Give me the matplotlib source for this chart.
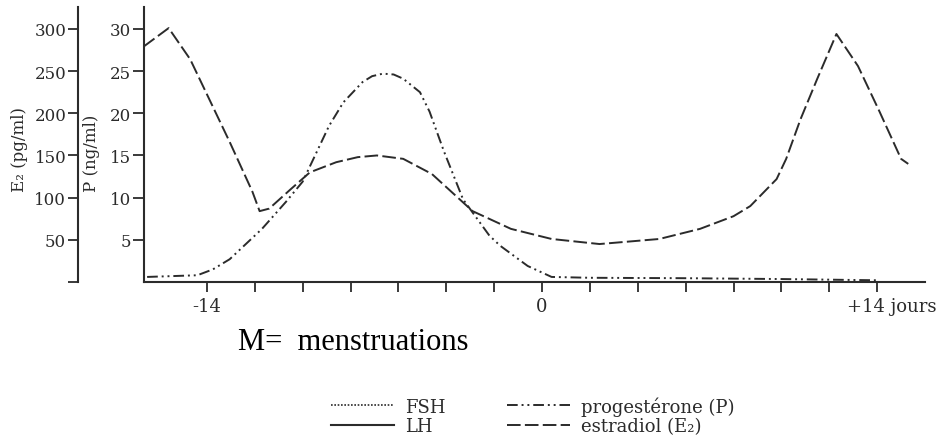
import matplotlib.pyplot as plt
from matplotlib.lines import Line2D

# data (days relative to day 0)
e2_days = [-16.65, -15.6, -14.7, -13.05, -12.1, -11.8, -11.4, -10.5, -9.7, -8.6, -7.7, -6.9,
           -5.8, -4.6, -2.9, -1.3, 0.4, 2.4, 4.9, 6.6, 8.0, 8.7, 9.8, 10.2, 10.8, 11.5,
           12.3, 13.2, 14.1, 15.0, 15.3]
e2_vals = [279, 301, 264, 166, 107, 84, 87, 110, 130, 142, 148, 150,
           146, 128, 84, 63, 51, 45, 51, 63, 78, 90, 122, 146, 193, 241,
           294, 256, 202, 146, 140]

p_days = [-16.5, -14.4, -13.75, -13.05, -11.7, -10.7, -10.0, -9.4, -8.9, -8.3, -7.5, -7.1,
          -6.65, -6.2, -5.8, -5.1, -4.7, -4.1, -3.3, -2.2, -1.75, -0.6, 0.4, 2.0, 6.0,
          10.0, 14.1]
p_vals = [0.6, 0.8, 1.5, 2.7, 6.3, 9.5, 11.9, 15.5, 18.5, 21.3, 23.7, 24.4,
          24.7, 24.6, 24.1, 22.5, 20.2, 15.5, 9.8, 5.5, 4.3, 1.9, 0.6, 0.5, 0.45,
          0.35, 0.2]

e2_ticks = [0, 50, 100, 150, 200, 250, 300]
e2_labels = ['', '50', '100', '150', '200', '250', '300']
p_ticks = [5, 10, 15, 20, 25, 30]
x_ticks = [-14, -12, -10, -8, -6, -4, -2, 0, 2, 4, 6, 8, 10, 12, 14]
x_labels = ['-14', '', '', '', '', '', '', '0', '', '', '', '', '', '', '']

ink = '#2b2b2b'
plt.rcParams['font.family'] = 'DejaVu Serif'

fig = plt.figure(figsize=(9.4, 4.39), dpi=100)
ax = fig.add_axes([144 / 940, 1 - 283 / 439, (925 - 144) / 940, (283 - 8) / 439])
ax2 = ax.twinx()

# progesterone on the P axis
ax.plot(p_days, p_vals, color=ink, lw=1.4, ls=(0, (5.5, 2, 1, 2, 1, 2)))
# estradiol on the E2 axis
ax2.plot(e2_days, e2_vals, color=ink, lw=1.4, ls=(0, (7, 2.2)))

ax.set_xlim(-16.63, 16.0)
ax.set_ylim(0, 32.6)
ax2.set_ylim(0, 326)

for s in ['top', 'right']:
    ax.spines[s].set_visible(False)
for s in ['top', 'right', 'bottom']:
    ax2.spines[s].set_visible(False)
for s in ['left', 'bottom']:
    ax.spines[s].set_linewidth(1.5)
    ax.spines[s].set_color(ink)
ax2.spines['left'].set_visible(True)
ax2.spines['left'].set_position(('axes', -66 / 781))
ax2.spines['left'].set_linewidth(1.5)
ax2.spines['left'].set_color(ink)
ax2.yaxis.set_ticks_position('left')

ax.set_yticks(p_ticks)
ax.set_yticklabels([str(v) for v in p_ticks])
ax2.set_yticks(e2_ticks)
ax2.set_yticklabels(e2_labels)
ax.set_xticks(x_ticks)
ax.set_xticklabels(x_labels)

ax.tick_params(axis='y', direction='out', length=8, width=1.3, pad=1.5,
               labelsize=12, colors=ink)
ax2.tick_params(axis='y', direction='out', length=7, width=1.3, pad=1.5,
                labelsize=12, colors=ink)
ax.tick_params(axis='x', direction='out', length=7, width=1.3, pad=4,
               labelsize=13, colors=ink)

ax.text(12.75, -0.055, '+14 jours', transform=ax.get_xaxis_transform(),
        ha='left', va='top', fontsize=13, color=ink)

fig.text(19 / 940, 1 - 150 / 439, 'E₂ (pg/ml)', rotation=90, ha='center',
         va='center', fontsize=12, color=ink)
fig.text(92 / 940, 1 - 153 / 439, 'P (ng/ml)', rotation=90, ha='center',
         va='center', fontsize=12, color=ink)

fig.text(238 / 940, 1 - 350 / 439, 'M=  menstruations', family='Liberation Serif',
         fontsize=22, ha='left', va='baseline', color='black')

handles = [
    Line2D([], [], color=ink, lw=1.2, ls=(0, (1, 1))),
    Line2D([], [], color=ink, lw=1.5, ls='-'),
    Line2D([], [], color=ink, lw=1.4, ls=(0, (5.5, 2, 1, 2, 1, 2))),
    Line2D([], [], color=ink, lw=1.4, ls=(0, (7, 2.2))),
]
labels = ['FSH', 'LH', 'progestérone (P)', 'estradiol (E₂)']
fig.legend(handles, labels, ncol=2, loc='upper left',
           bbox_to_anchor=(322 / 940, 1 - 388 / 439), frameon=False,
           fontsize=13, handlelength=3.5, handletextpad=0.6,
           columnspacing=3.4, labelspacing=0.1, borderpad=0, labelcolor=ink)

fig.savefig('out.png', dpi=100)
